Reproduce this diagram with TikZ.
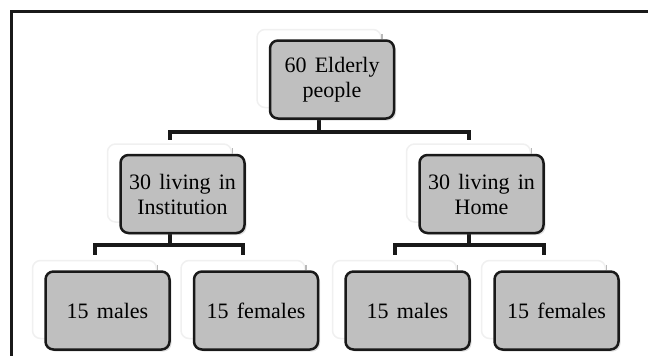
\documentclass[tikz,border=0pt]{standalone}
\usepackage{fontspec}
\setmainfont[WordSpace=1.5]{Liberation Serif}
\usetikzlibrary{positioning, calc, shadows}

\begin{document}
\begin{tikzpicture}[x=1pt, y=-1pt,
    ghost/.style={draw=gray!12, line width=1.5pt, rounded corners=8pt, fill=white,
      minimum width=124pt, minimum height=78pt, inner sep=0pt},
    tick/.style={gray!55, line width=1.5pt},
    box/.style={draw=black!90, line width=2.5pt, rounded corners=8pt, fill=gray!50,
      minimum width=124pt, minimum height=78pt, inner sep=0pt, align=center,
      font=\fontsize{22}{25}\selectfont,
      drop shadow={opacity=0.25, shadow xshift=2pt, shadow yshift=-2pt}},
    conn/.style={black!90, line width=4pt},
    frame/.style={black!90, line width=3pt}]
  \useasboundingbox (0,0) rectangle (648,356);
  \draw[frame] (11.5,356) -- (11.5,11.5) -- (648,11.5);

  % ghost boxes behind
  \node[ghost] (tg) at (319,68.5) {};
  \node[ghost] (mlg) at (169.5,183) {};
  \node[ghost] (mrg) at (468.5,183) {};
  \node[ghost] (b1g) at (94.5,299.5) {};
  \node[ghost] (b2g) at (243,299.5) {};
  \node[ghost] (b3g) at (394.5,299.5) {};
  \node[ghost] (b4g) at (543.5,299.5) {};

  % connectors
  \draw[conn, shorten >=3pt] (tg.center) -- ++(0,63.5) coordinate (bar1) -| (mlg.north);
  \draw[conn, shorten >=3pt] (bar1) -| (mrg.north);
  \draw[conn, shorten >=5pt] (mlg.center) -- ++(0,62) coordinate (bar2) -| (b1g.north);
  \draw[conn, shorten >=5pt] (bar2) -| (b2g.north);
  \draw[conn, shorten >=5pt] (mrg.center) -- ++(0,62) coordinate (bar3) -| (b3g.north);
  \draw[conn, shorten >=5pt] (bar3) -| (b4g.north);

  % visible boxes
  \node[box] (top) at ($(tg)+(13,11)$) {60 Elderly\\people};
  \node[box] (ml) at ($(mlg)+(13,11)$) {30 living in\\Institution};
  \node[box] (mr) at ($(mrg)+(13,11)$) {30 living in\\Home};
  \node[box] (b1) at ($(b1g)+(13,11)$) {15 males};
  \node[box] (b2) at ($(b2g)+(13,11)$) {15 females};
  \node[box] (b3) at ($(b3g)+(13,11)$) {15 males};
  \node[box] (b4) at ($(b4g)+(13,11)$) {15 females};

  \draw[tick] ($(tg.north east)+(0,5)$) -- (tg.east |- top.north);
  \draw[tick] ($(mlg.north east)+(0,5)$) -- (mlg.east |- ml.north);
  \draw[tick] ($(mrg.north east)+(0,5)$) -- (mrg.east |- mr.north);
  \draw[tick] ($(b1g.north east)+(0,5)$) -- (b1g.east |- b1.north);
  \draw[tick] ($(b2g.north east)+(0,5)$) -- (b2g.east |- b2.north);
  \draw[tick] ($(b3g.north east)+(0,5)$) -- (b3g.east |- b3.north);
  \draw[tick] ($(b4g.north east)+(0,5)$) -- (b4g.east |- b4.north);
\end{tikzpicture}
\end{document}
